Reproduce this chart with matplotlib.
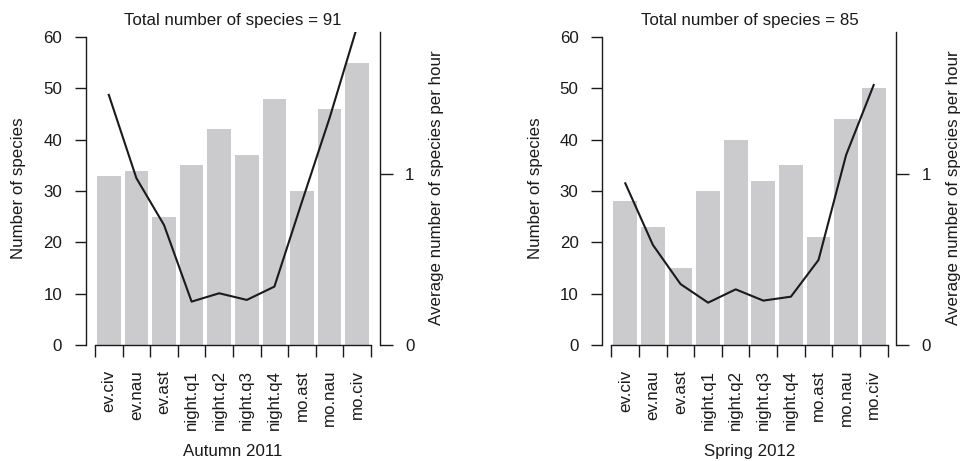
import numpy as np
import matplotlib.pyplot as plt

plt.rcParams['font.family'] = ['Liberation Sans', 'DejaVu Sans']
plt.rcParams['font.size'] = 12.2

categories = ['ev.civ', 'ev.nau', 'ev.ast', 'night.q1', 'night.q2',
              'night.q3', 'night.q4', 'mo.ast', 'mo.nau', 'mo.civ']
autumn_species = [33, 34, 25, 35, 42, 37, 48, 30, 46, 55]
autumn_rate = [1.465, 0.977, 0.703, 0.254, 0.303, 0.264, 0.342, 0.84, 1.33, 1.866]
spring_species = [28, 23, 15, 30, 40, 32, 35, 21, 44, 50]
spring_rate = [0.947, 0.586, 0.357, 0.248, 0.326, 0.26, 0.283, 0.498, 1.113, 1.523]
totals = [91, 85]
seasons = ['Autumn 2011', 'Spring 2012']

W, H = 962, 461
BAR_COLOR = '#cbcbcd'
INK = '#1a1a1a'


def draw_panel(fig, left_px, species, rate, total, season):
    x = np.arange(len(species))
    ax = fig.add_axes([left_px / W, (H - 345) / H, 294 / W, 313.3 / H])
    ax.bar(x, species, width=0.86, color=BAR_COLOR, linewidth=0)
    ax.set_xlim(-0.826, 9.826)
    ax.set_ylim(0, 61.05)

    for s in ['top', 'right']:
        ax.spines[s].set_visible(False)
    ax.spines['left'].set_bounds(0, 60)
    ax.spines['bottom'].set_bounds(-0.5, 9.5)
    for s in ['left', 'bottom']:
        ax.spines[s].set_linewidth(1.0)
        ax.spines[s].set_color(INK)

    ax.set_yticks([0, 10, 20, 30, 40, 50, 60])
    ax.tick_params(axis='y', length=8.2, width=1.0, pad=9, colors=INK)
    ax.set_xticks(np.arange(-0.5, 10, 1))
    ax.set_xticklabels([])
    ax.set_xticks(x, minor=True)
    ax.set_xticklabels(categories, minor=True, rotation=90, va='top', ha='center')
    ax.tick_params(axis='x', which='major', length=8.6, width=1.0, colors=INK)
    ax.tick_params(axis='x', which='minor', length=0, pad=18, colors=INK)

    ax2 = ax.twinx()
    ax2.plot(x, rate, color=INK, linewidth=1.5)
    ax2.set_ylim(0, 1.835)
    for s in ['top', 'left', 'bottom']:
        ax2.spines[s].set_visible(False)
    ax2.spines['right'].set_linewidth(1.0)
    ax2.spines['right'].set_color(INK)
    ax2.set_yticks([0, 1])
    ax2.tick_params(axis='y', length=9, width=1.0, pad=9, colors=INK)

    cx = left_px + 147
    fig.text(cx / W, 1 - 21 / H, 'Total number of species = %d' % total,
             ha='center', va='center', color=INK)
    fig.text(cx / W, 1 - 451 / H, season, ha='center', va='center', color=INK)
    fig.text((left_px - 67) / W, 1 - 188 / H, 'Number of species',
             rotation=90, ha='center', va='center', color=INK)
    fig.text((left_px + 351) / W, 1 - 188 / H, 'Average number of species per hour',
             rotation=90, ha='center', va='center', color=INK)


fig = plt.figure(figsize=(W / 100, H / 100), dpi=100)
draw_panel(fig, 86, autumn_species, autumn_rate, totals[0], seasons[0])
draw_panel(fig, 602.5, spring_species, spring_rate, totals[1], seasons[1])
fig.savefig('out.png', dpi=100)
